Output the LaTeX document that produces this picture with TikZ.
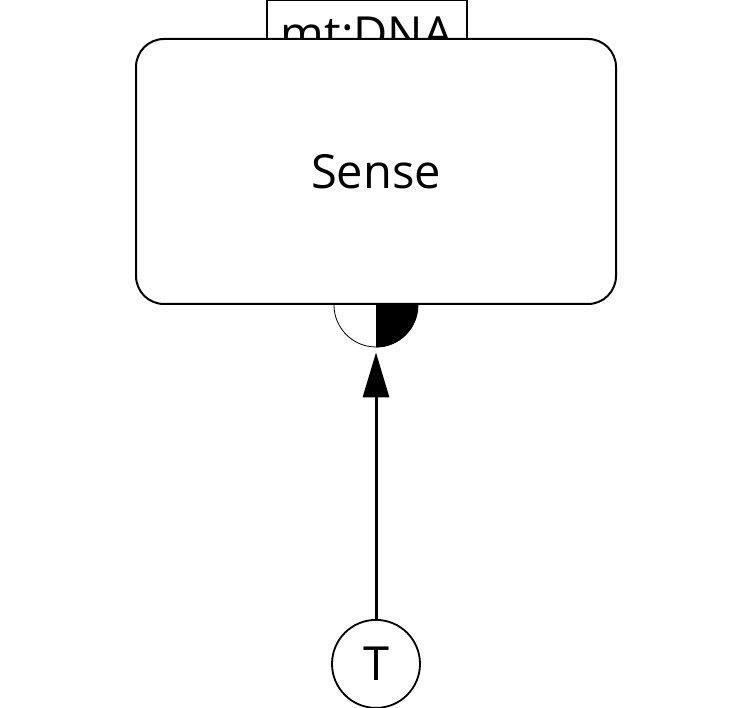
\documentclass[tikz,border=0pt]{standalone}
\usepackage{fontspec}
\setmainfont{Open Sans}
\usetikzlibrary{arrows.meta, positioning, backgrounds}

\begin{document}
\begin{tikzpicture}[
    x=1pt, y=1pt,
    box/.style={rectangle, rounded corners=28pt, minimum width=480pt, minimum height=265pt, text centered, draw=black, line width=2pt, fill=white},
    tag/.style={rectangle, minimum width=200pt, minimum height=68pt, inner sep=0pt, draw=black, line width=1.5pt, fill=white},
    port/.style={circle, minimum size=84pt, inner sep=0pt, draw=black, line width=0.8pt, fill=white},
    var/.style={circle, minimum size=88pt, inner sep=0pt, draw=black, line width=1.8pt},
    arrow/.style={line width=3pt, -{Triangle[length=45pt, width=26pt]}, shorten >=5pt},
    font=\fontsize{47}{50}\selectfont
]
    \useasboundingbox (0,0) rectangle (752,708);

    \node (sense) [box] at (376,536.5) {Sense};

    % label and socket sit behind the box
    \begin{scope}[on background layer]
        \node (dna) [tag, above=-31pt of sense, xshift=-9pt] {mt:DNA};
        \node (sock) [port] at (sense.south) {};
        \fill [black] (sock.south) arc[start angle=-90, end angle=90, radius=42pt] -- cycle;
        \draw [line width=0.8pt] (sock.north) -- (sock.south);
    \end{scope}

    \node (temp) [var, below=314pt of sense] {T};

    \draw [arrow] (temp) -- (sock);
\end{tikzpicture}
\end{document}
